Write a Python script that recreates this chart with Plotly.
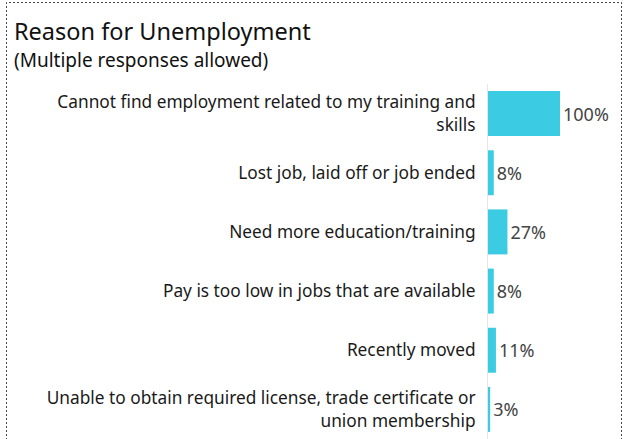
import plotly.graph_objects as go

categories = [
    "Cannot find employment related to my training and<br>skills",
    "Lost job, laid off or job ended",
    "Need more education/training",
    "Pay is too low in jobs that are available",
    "Recently moved",
    "Unable to obtain required license, trade certificate or<br>union membership",
]
values = [100, 8, 27, 8, 11, 3]
value_labels = ["100%", "8%", "27%", "8%", "11%", "3%"]

W, H = 624, 439
L, R, T, B = 488, 64, 84, 0
pw, ph = W - L - R, H - T - B

def px_x(x):
    return (x - L) / pw

def px_y(y):
    return (H - B - y) / ph

fig = go.Figure(go.Bar(
    x=values, y=categories, orientation="h",
    marker=dict(color="#3BCBE2", line=dict(width=0)),
    text=value_labels, textposition="outside", cliponaxis=False,
    constraintext="none",
    textfont=dict(size=18, color="#444444", family="Noto Sans"),
    width=0.76,
))

fig.update_layout(
    width=W, height=H,
    margin=dict(l=L, r=R, t=T, b=B),
    paper_bgcolor="white", plot_bgcolor="white",
    showlegend=False,
    font=dict(family="Noto Sans", color="#222222"),
    xaxis=dict(range=[0, 100], visible=False, fixedrange=True),
    yaxis=dict(autorange="reversed", showgrid=False, zeroline=False,
               showline=True, linecolor="#e6e6e6", linewidth=1,
               ticks="outside", ticklen=8, tickcolor="rgba(0,0,0,0)",
               fixedrange=True,
               tickfont=dict(size=17.3, color="#1a1a1a", family="Noto Sans")),
    annotations=[
        dict(text="Reason for Unemployment", xref="paper", yref="paper",
             x=px_x(12), y=px_y(49), xanchor="left", yanchor="bottom",
             showarrow=False, font=dict(size=23.5, color="#111111", family="Noto Sans")),
        dict(text="(Multiple responses allowed)", xref="paper", yref="paper",
             x=px_x(12), y=px_y(75), xanchor="left", yanchor="bottom",
             showarrow=False, font=dict(size=19, color="#111111", family="Noto Sans")),
    ],
    shapes=[
        dict(type="rect", xref="paper", yref="paper",
             x0=px_x(6.5), x1=px_x(621.5), y0=px_y(445), y1=px_y(2.5),
             line=dict(color="#444444", width=1, dash="2px,2px"), layer="above"),
    ],
)

fig.write_html("out.html", config={"displayModeBar": False},
               post_script="document.body.style.margin='0';")
